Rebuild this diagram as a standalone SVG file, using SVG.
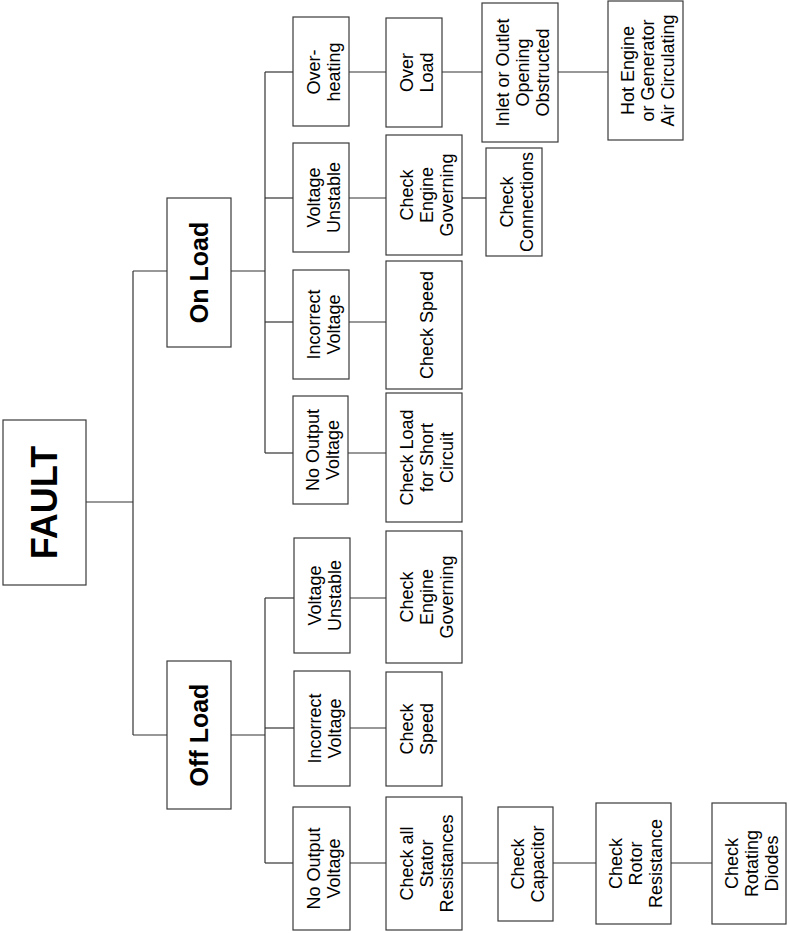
<svg xmlns="http://www.w3.org/2000/svg" width="790" height="933" viewBox="0 0 790 933">
<style>
rect{fill:#fff;stroke:#3a3a3a;stroke-width:1.2}
.c line{stroke:#333;stroke-width:1.2}
text{font-family:"Liberation Sans",Arial,sans-serif;font-size:18px;fill:#000;text-anchor:middle}
.b{font-weight:bold}
</style>
<rect x="0" y="0" width="790" height="933" style="stroke:none"/>
<g class="c" id="connectors">
<line x1="86" y1="502" x2="133" y2="502"/>
<line x1="133" y1="271" x2="133" y2="735"/>
<line x1="133" y1="271" x2="167" y2="271"/>
<line x1="133" y1="735" x2="167" y2="735"/>
<line x1="231" y1="271" x2="265" y2="271"/>
<line x1="265" y1="72" x2="265" y2="453"/>
<line x1="265" y1="72" x2="293" y2="72"/>
<line x1="265" y1="198" x2="293" y2="198"/>
<line x1="265" y1="322" x2="293" y2="322"/>
<line x1="265" y1="453" x2="293" y2="453"/>
<line x1="231" y1="735" x2="265" y2="735"/>
<line x1="265" y1="598" x2="265" y2="863"/>
<line x1="265" y1="598" x2="294" y2="598"/>
<line x1="265" y1="728" x2="294" y2="728"/>
<line x1="265" y1="863" x2="293" y2="863"/>
<line x1="349" y1="72" x2="386" y2="72"/>
<line x1="349" y1="198" x2="386" y2="198"/>
<line x1="349" y1="322" x2="386" y2="322"/>
<line x1="348" y1="453" x2="386" y2="453"/>
<line x1="350" y1="598" x2="386" y2="598"/>
<line x1="350" y1="728" x2="386" y2="728"/>
<line x1="350" y1="863" x2="386" y2="863"/>
<line x1="442" y1="72" x2="482" y2="72"/>
<line x1="462" y1="198" x2="486" y2="198"/>
<line x1="462" y1="863" x2="498" y2="863"/>
<line x1="558" y1="72" x2="608" y2="72"/>
<line x1="553" y1="863" x2="596" y2="863"/>
<line x1="671" y1="863" x2="712" y2="863"/>
</g>
<g id="fault"><rect x="3" y="420" width="83" height="165"/><text class="b" style="font-size:36px" transform="translate(57,502.5) rotate(-90)">FAULT</text></g>
<g id="onload"><rect x="167" y="198" width="64" height="149"/><text class="b" style="font-size:25px" transform="translate(208,272.5) rotate(-90)">On Load</text></g>
<g id="offload"><rect x="167" y="661" width="64" height="148"/><text class="b" style="font-size:25px" transform="translate(208,735) rotate(-90)">Off Load</text></g>

<g id="on-overheating"><rect x="293" y="17" width="56" height="109"/><text transform="translate(321,72) rotate(-90)"><tspan x="0" y="-1.5">Over-</tspan><tspan x="0" y="18.5">heating</tspan></text></g>
<g id="on-vunstable"><rect x="293" y="143" width="56" height="109"/><text transform="translate(321,197.5) rotate(-90)"><tspan x="0" y="-1.5">Voltage</tspan><tspan x="0" y="18.5">Unstable</tspan></text></g>
<g id="on-incorrect"><rect x="293" y="270" width="56" height="109"/><text transform="translate(321,324.5) rotate(-90)"><tspan x="0" y="-1.5">Incorrect</tspan><tspan x="0" y="18.5">Voltage</tspan></text></g>
<g id="on-nooutput"><rect x="293" y="396" width="55" height="108"/><text transform="translate(320.5,450) rotate(-90)"><tspan x="0" y="-1.5">No Output</tspan><tspan x="0" y="18.5">Voltage</tspan></text></g>

<g id="off-vunstable"><rect x="294" y="538" width="56" height="115"/><text transform="translate(322,595.5) rotate(-90)"><tspan x="0" y="-1.5">Voltage</tspan><tspan x="0" y="18.5">Unstable</tspan></text></g>
<g id="off-incorrect"><rect x="294" y="671" width="56" height="115"/><text transform="translate(322,728.5) rotate(-90)"><tspan x="0" y="-1.5">Incorrect</tspan><tspan x="0" y="18.5">Voltage</tspan></text></g>
<g id="off-nooutput"><rect x="293" y="807" width="57" height="123"/><text transform="translate(321.5,868.5) rotate(-90)"><tspan x="0" y="-1.5">No Output</tspan><tspan x="0" y="18.5">Voltage</tspan></text></g>

<g id="overload"><rect x="386" y="18" width="56" height="109"/><text transform="translate(414,72.5) rotate(-90)"><tspan x="0" y="-1.5">Over</tspan><tspan x="0" y="18.5">Load</tspan></text></g>
<g id="on-governing"><rect x="386" y="135" width="76" height="120"/><text transform="translate(424,195) rotate(-90)"><tspan x="0" y="-11.5">Check</tspan><tspan x="0" y="8.5">Engine</tspan><tspan x="0" y="28.5">Governing</tspan></text></g>
<g id="on-speed"><rect x="386" y="261" width="76" height="128"/><text transform="translate(424,325) rotate(-90)"><tspan x="0" y="8.5">Check Speed</tspan></text></g>
<g id="on-load-short"><rect x="386" y="393" width="76" height="129"/><text transform="translate(424,457.5) rotate(-90)"><tspan x="0" y="-11.5">Check Load</tspan><tspan x="0" y="8.5">for Short</tspan><tspan x="0" y="28.5">Circuit</tspan></text></g>
<g id="off-governing"><rect x="386" y="531" width="76" height="132"/><text transform="translate(424,597) rotate(-90)"><tspan x="0" y="-11.5">Check</tspan><tspan x="0" y="8.5">Engine</tspan><tspan x="0" y="28.5">Governing</tspan></text></g>
<g id="off-speed"><rect x="386" y="672" width="56" height="114"/><text transform="translate(414,729) rotate(-90)"><tspan x="0" y="-1.5">Check</tspan><tspan x="0" y="18.5">Speed</tspan></text></g>
<g id="off-stator"><rect x="386" y="797" width="76" height="133"/><text transform="translate(424,863.5) rotate(-90)"><tspan x="0" y="-11.5">Check all</tspan><tspan x="0" y="8.5">Stator</tspan><tspan x="0" y="28.5">Resistances</tspan></text></g>

<g id="inlet"><rect x="482" y="3" width="76" height="139"/><text transform="translate(520,72.5) rotate(-90)"><tspan x="0" y="-11.5">Inlet or Outlet</tspan><tspan x="0" y="8.5">Opening</tspan><tspan x="0" y="28.5">Obstructed</tspan></text></g>
<g id="connections"><rect x="486" y="148" width="56" height="108"/><text transform="translate(514,202) rotate(-90)"><tspan x="0" y="-1.5">Check</tspan><tspan x="0" y="18.5">Connections</tspan></text></g>
<g id="capacitor"><rect x="498" y="807" width="55" height="114"/><text transform="translate(525.5,864) rotate(-90)"><tspan x="0" y="-1.5">Check</tspan><tspan x="0" y="18.5">Capacitor</tspan></text></g>

<g id="hotengine"><rect x="608" y="1" width="75" height="139"/><text transform="translate(645.5,70.5) rotate(-90)"><tspan x="0" y="-11.5">Hot Engine</tspan><tspan x="0" y="8.5">or Generator</tspan><tspan x="0" y="28.5">Air Circulating</tspan></text></g>
<g id="rotor"><rect x="596" y="803" width="75" height="121"/><text transform="translate(633.5,863.5) rotate(-90)"><tspan x="0" y="-11.5">Check</tspan><tspan x="0" y="8.5">Rotor</tspan><tspan x="0" y="28.5">Resistance</tspan></text></g>
<g id="diodes"><rect x="712" y="803" width="74" height="121"/><text transform="translate(749,863.5) rotate(-90)"><tspan x="0" y="-11.5">Check</tspan><tspan x="0" y="8.5">Rotating</tspan><tspan x="0" y="28.5">Diodes</tspan></text></g>
</svg>
